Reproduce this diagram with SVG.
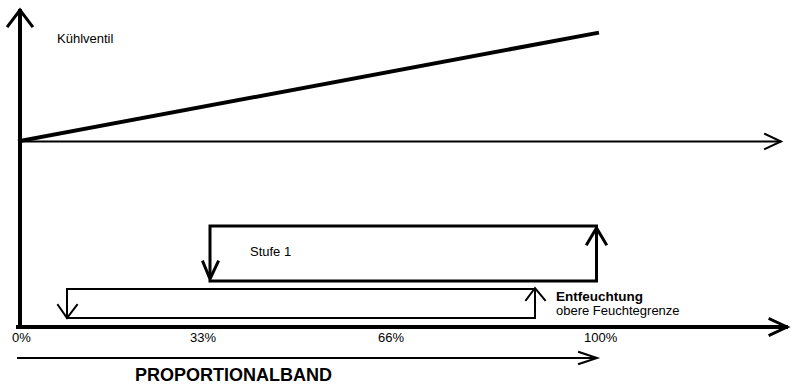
<svg xmlns="http://www.w3.org/2000/svg" width="793" height="385" viewBox="0 0 793 385">
  <style>
    .ln { fill: none; stroke: #000; stroke-linecap: square; stroke-linejoin: miter; }
    .t { font-family: "Liberation Sans", Arial, sans-serif; font-size: 13px; fill: #000; }
    .b { font-weight: bold; }
    .head { font-size: 13.5px; }
    .title { font-size: 18px; }
  </style>
  <rect width="793" height="385" fill="#fff"/>

  <!-- axes -->
  <g id="axes">
    <path class="ln" d="M20 327 V11" stroke-width="4"/>
    <path class="ln" d="M8 26 L20 10 L32 26" stroke-width="3"/>
    <path class="ln" d="M18 327 H786" stroke-width="4"/>
    <path class="ln" d="M770 319 L787 327 L770 335" stroke-width="3"/>
    <path class="ln" d="M20 141.5 H780" stroke-width="2"/>
    <path class="ln" d="M765 134 L781 141.5 L765 149" stroke-width="2"/>
  </g>

  <!-- cooling valve characteristic -->
  <g id="kuehlventil">
    <path class="ln" d="M20 141 L597 33" stroke-width="4" stroke-linecap="butt"/>
    <text class="t" x="57" y="43">Kühlventil</text>
  </g>

  <!-- stage 1 hysteresis -->
  <g id="stufe1">
    <path class="ln" d="M210 277 V226 H596.5 V281 H210" stroke-width="3"/>
    <path class="ln" d="M203 262 L210 279 L218 262" stroke-width="3"/>
    <path class="ln" d="M587 244 L596.5 228 L606 244" stroke-width="3"/>
    <text class="t" x="250" y="256">Stufe 1</text>
  </g>

  <!-- dehumidification hysteresis -->
  <g id="entfeuchtung">
    <path class="ln" d="M67 316 V289 H535 V318 H67" stroke-width="2"/>
    <path class="ln" d="M58 305 L67 318 L77 305" stroke-width="2"/>
    <path class="ln" d="M526 300 L535 288 L545 300" stroke-width="2"/>
    <text class="t b head" x="556" y="301">Entfeuchtung</text>
    <text class="t" x="556" y="315">obere Feuchtegrenze</text>
  </g>

  <!-- scale labels -->
  <g id="scale">
    <text class="t" x="12" y="342">0%</text>
    <text class="t" x="190" y="342">33%</text>
    <text class="t" x="378" y="342">66%</text>
    <text class="t" x="584" y="342">100%</text>
  </g>

  <!-- proportional band -->
  <g id="proportionalband">
    <path class="ln" d="M18 358 H595" stroke-width="2"/>
    <path class="ln" d="M579 352 L597 358 L579 364" stroke-width="2"/>
    <text class="t b title" x="135" y="381">PROPORTIONALBAND</text>
  </g>
</svg>
